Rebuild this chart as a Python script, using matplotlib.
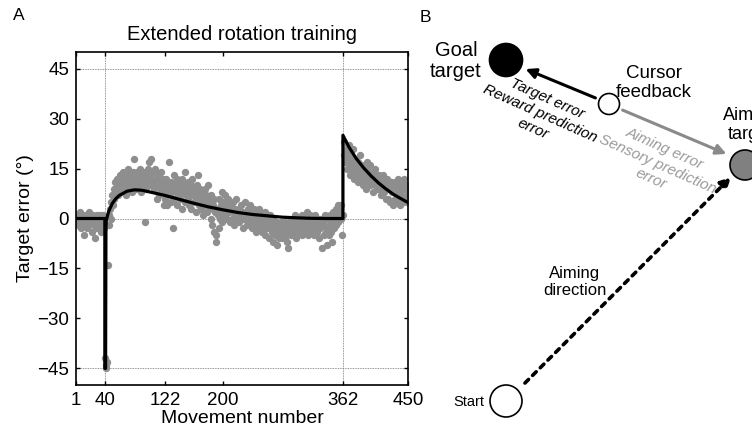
import numpy as np
import matplotlib
matplotlib.use("Agg")
import matplotlib.pyplot as plt
from matplotlib.patches import Circle, FancyArrowPatch

plt.rcParams["font.family"] = ["Liberation Sans", "DejaVu Sans"]

# target error per movement (degrees)
baseline_err = [
    -1, 0, 1, -2, -1, 2, 0, -3, -1, 1,
    -2, -5, 0, -1, 1, -3, 0, -2, 2, -1,
    0, -4, -1, 1, -2, 0, -6, -1, 1, -3,
    -2, 0, 1, -1, -4, -2, 0, 1, -3,
]
onset_err = [-42, -45, -44, -43, -14]
training_err = [
    -2, 1, 3, 0, 5, 7,
    4, 9, 6, 11, 8, 10, 12, 7, 9, 13,
    10, 8, 12, 14, 9, 11, 13, 10, 7, 12,
    15, 11, 9, 13, 10, 12, 8, 14, 11, 18,
    12, 9, 14, 11, 13, 10, 15, 12, 8, 13,
    11, 14, 10, -1, 12, 9, 13, 15, 11, 17,
    13, 10, 18, 12, 14, 9, 11, 15, 12, 6,
    10, 13, 7, 11, 9, 14, 8, 12, 10, 4,
    9, 6, 12, 4, 10, 8, 17, 7, 11, 5,
    9, -3, 13, 6, 10, 8, 12, 4, 9, 7,
    11, 6, 9, 3, 12, 8, 10, 5, 14, 7,
    9, 6, 11, 4, 8, 10, 3, 12, 7, 9,
    5, 8, 2, 10, 6, 13, 4, 7, 9, 3,
    6, 8, 1, 5, 9, 4, 7, 2, 6, 10,
    3, 5, 0, 7, -2, 4, 6, -4, 2, -7,
    -5, 3, 1, -3, 6, 0, 4, 8, -1, 2,
    5, 1, 7, 3, 0, 4, 6, 2, -1, 3,
    4, 0, 2, 5, -2, 3, 1, 6, 0, 2,
    3, -1, 1, 4, 0, 2, -3, 1, 5, 0,
    2, -2, 3, 0, 1, 4, -1, 2, -3, 1,
    0, 3, -2, 1, -4, 2, 0, -1, 3, -3,
    -1, 1, -4, 0, -2, 2, -5, -1, -3, 0,
    -2, -6, 1, -3, -1, -4, 0, -7, -2, -5,
    -3, -1, -8, -4, -2, -6, -5, -1, -3, -6,
    -4, -2, -6, -1, -5, -3, -7, -9, -2, -4,
    -1, -5, -3, 0, -2, -4, 1, -6, -3, -1,
    -2, 0, -4, -1, -3, 1, -5, -2, 0, -3,
    -1, -4, 2, -2, -5, 0, -3, 1, -1, -4,
    0, -2, -5, 1, -3, -1, -4, 0, -6, -2,
    -3, -2, 0, -9, -1, -5, -2, 1, -4, -8,
    -3, 0, -5, -2, 1, -4, -7, -1, 2, -3,
    0, 3, -2, 1, 4, -1, 2, 3, 0, 4,
    -5, 1,
]
washout_err = [
    19, 23, 17, 21, 15, 20, 18, 22,
    16, 13, 19, 15, 21, 17, 12, 18, 14, 16,
    13, 17, 11, 15, 19, 14, 12, 16, 10, 14,
    12, 15, 9, 13, 17, 11, 14, 10, 16, 12,
    11, 14, 8, 12, 15, 10, 13, 9, 12, 11,
    13, 9, 12, 7, 11, 13, 8, 10, 12, 6,
    10, 12, 6, 9, 11, 5, 11, 8, 9, 4,
    8, 11, 6, 10, 5, 12, 7, 9, 4, 10,
    7, 10, 5, 9, 12, 6, 10, 7, 5, 9,
]

# model fit, sampled from the drawn curve
model_trial = [1, 40, 40, 41, 41.5, 42, 45, 50, 55, 60, 70, 80, 90, 100, 120,
               140, 160, 180, 200, 220, 240, 260, 280, 300, 320, 340, 362,
               362, 370, 380, 390, 400, 410, 420, 430, 440, 450]
model_err = [0, 0, -45, -45, -3, -0.5, 2, 4.5, 6, 7, 8.2, 8.6, 8.5, 8.0, 7.0,
             5.8, 4.6, 3.5, 2.6, 1.8, 1.2, 0.8, 0.4, 0.2, 0.05, 0, 0,
             25, 21.5, 18.0, 15.2, 12.8, 10.7, 8.9, 7.3, 6.0, 4.8]

x_ticks = [1, 40, 122, 200, 362, 450]
y_ticks = [-45, -30, -15, 0, 15, 30, 45]

target_err = baseline_err + onset_err + training_err + washout_err
trials = np.arange(1, len(target_err) + 1)

W, H = 752, 437
fig = plt.figure(figsize=(W / 100, H / 100), dpi=100)

ax = fig.add_axes([76 / W, 1 - 385 / H, 332 / W, 333 / H])
for yv in [45, 0, -45]:
    ax.axhline(yv, color="0.45", lw=0.6, ls=(0, (1, 1)), zorder=1)
for xv in [40, 362]:
    ax.axvline(xv, color="0.45", lw=0.6, ls=(0, (1, 1)), zorder=1)
ax.scatter(trials, target_err, s=28, color="#8e8e8e", lw=0, zorder=2)
ax.plot(model_trial, model_err, color="black", lw=2.3, zorder=3)
ax.set_xlim(1, 450)
ax.set_ylim(-50, 50)
ax.set_xticks(x_ticks)
ax.set_yticks(y_ticks)
ax.tick_params(direction="in", length=3, top=True, right=True, labelsize=13.5,
               width=1, pad=5)
for s in ax.spines.values():
    s.set_linewidth(1.2)
ax.set_xlabel("Movement number", fontsize=14, labelpad=1)
ax.set_ylabel("Target error (°)", fontsize=14, labelpad=2)
ax.set_title("Extended rotation training", fontsize=14.5, pad=9)

fig.text(13 / W, 1 - 16 / H, "A", fontsize=12.5, va="center")
fig.text(420 / W, 1 - 17 / H, "B", fontsize=12.5, va="center")

# panel B drawn in pixel coordinates
bx = fig.add_axes([0, 0, 1, 1])
bx.set_xlim(0, W)
bx.set_ylim(H, 0)
bx.axis("off")
bx.patch.set_alpha(0)

bx.add_patch(Circle((506, 60), 16.5, fc="black", ec="black", lw=1.2))
bx.add_patch(Circle((609, 104), 10.5, fc="white", ec="black", lw=1.2))
bx.add_patch(Circle((745, 165), 15, fc="#808080", ec="black", lw=1.2))
bx.add_patch(Circle((506, 401), 16, fc="white", ec="black", lw=1.2))

bx.add_patch(FancyArrowPatch((598, 99), (523, 68), arrowstyle="-|>",
                             mutation_scale=15, color="black", lw=2.2))
bx.add_patch(FancyArrowPatch((620, 109), (729, 155), arrowstyle="-|>",
                             mutation_scale=15, color="#8a8a8a", lw=2.2))
bx.add_patch(FancyArrowPatch((523, 385), (733, 175), arrowstyle="-|>",
                             mutation_scale=15, color="black", lw=2.6,
                             linestyle=(0, (1.4, 1.6))))

bx.text(456, 61, "Goal\ntarget", fontsize=14.5, ha="center", va="center",
        linespacing=1.1)
bx.text(654, 83, "Cursor\nfeedback", fontsize=13.5, ha="center", va="center",
        linespacing=1.1)
bx.text(751, 125, "Aiming\ntarget", fontsize=13, ha="center", va="center",
        linespacing=1.1)
bx.text(540, 114, "Target error\nReward prediction\nerror", fontsize=11,
        style="italic", ha="center", va="center", rotation=-24,
        rotation_mode="anchor", linespacing=1.25)
bx.text(658, 164, "Aiming error\nSensory prediction\nerror", fontsize=11,
        style="italic", color="#9a9a9a", ha="center", va="center",
        rotation=-24, rotation_mode="anchor", linespacing=1.25)
bx.text(575, 282, "Aiming\ndirection", fontsize=12, ha="center",
        va="center", linespacing=1.1)
bx.text(484, 402, "Start", fontsize=10.5, ha="right", va="center")

fig.savefig("out.png", dpi=100)
